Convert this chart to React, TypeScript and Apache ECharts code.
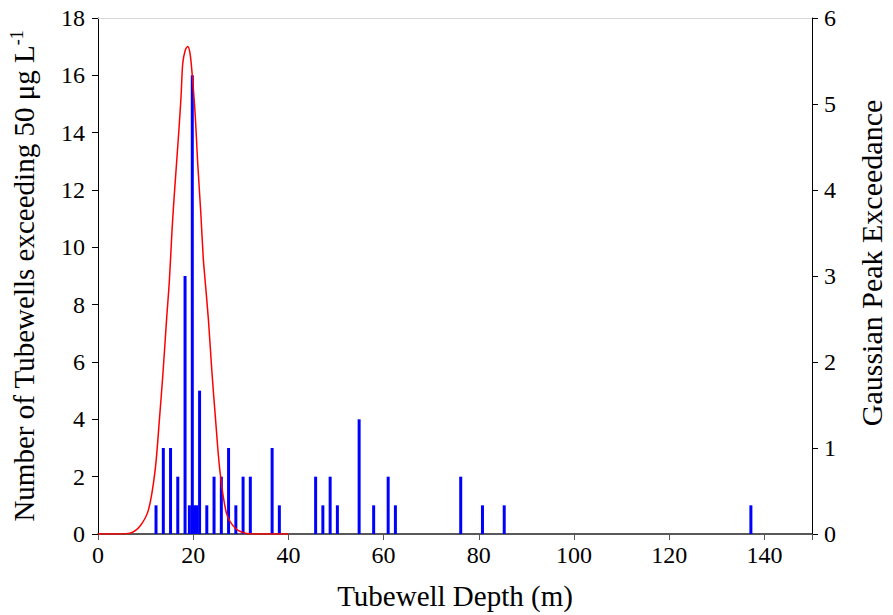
import React, { useEffect, useRef } from "react";
import * as echarts from "echarts";

const depths = [12.19, 13.72, 15.24, 16.76, 18.29, 19.2, 19.81, 20.27, 20.73, 21.34, 22.86, 24.38, 25.91, 27.43, 28.96, 30.48, 32.0, 36.58, 38.1, 45.72, 47.24, 48.77, 50.29, 54.86, 57.91, 60.96, 62.48, 76.2, 80.77, 85.34, 137.16];
const counts = [1, 3, 3, 2, 9, 1, 16, 1, 1, 5, 1, 2, 2, 3, 1, 2, 2, 3, 1, 2, 1, 2, 1, 4, 1, 2, 1, 2, 1, 1, 1];

const gaussX = [0, 4, 6.7, 8.8, 10.6, 12.0, 12.9, 13.7, 14.4, 15.0, 15.55, 16.0, 16.5, 17.0, 17.45, 17.8, 18.3, 18.85, 19.3, 19.7, 20.4, 20.95, 21.6, 22.1, 22.5, 23.2, 23.9, 24.7, 25.6, 27.0, 28.8, 30.9, 33, 40];
const gaussY = [0, 0, 0.01, 0.09, 0.28, 0.74, 1.33, 1.91, 2.49, 2.95, 3.53, 3.92, 4.31, 4.7, 5.09, 5.47, 5.62, 5.67, 5.6, 5.4, 4.89, 4.31, 3.73, 3.22, 2.95, 2.49, 1.91, 1.33, 0.74, 0.24, 0.07, 0.01, 0, 0];

const xTicks = [0, 20, 40, 60, 80, 100, 120, 140];

const FONT = "Liberation Serif";

export default function App() {
  const ref = useRef<HTMLDivElement>(null);
  useEffect(() => {
    document.body.style.margin = "0";
    const chart = echarts.init(ref.current!, null, { renderer: "svg" });
    const axisLine = { show: true, onZero: false, lineStyle: { color: "#000", width: 1 } };
    chart.setOption({
      animation: false,
      backgroundColor: "#fff",
      grid: { left: 98, right: 81, top: 18, bottom: 81, containLabel: false, outerBoundsMode: "none" },
      xAxis: [
        {
          type: "value",
          min: 0,
          max: 150,
          interval: 20,
          position: "bottom",
          name: "Tubewell Depth (m)",
          nameLocation: "middle",
          nameGap: 47,
          nameTextStyle: { fontFamily: FONT, fontSize: 29, color: "#000" },
          axisLine: { show: true, onZero: false, lineStyle: { color: "#222", width: 1.5 } },
          axisTick: { show: true, length: 6, inside: false, lineStyle: { color: "#555" } },
          axisLabel: {
            fontFamily: FONT,
            fontSize: 24,
            color: "#000",
            margin: 9,
            formatter: (v: number) => (xTicks.includes(v) ? String(v) : ""),
          },
          splitLine: { show: false },
        },
        {
          type: "value",
          min: 0,
          max: 150,
          position: "top",
          axisLine: { show: true, onZero: false, lineStyle: { color: "#d8d8d8", width: 1 } },
          axisTick: { show: false },
          axisLabel: { show: false },
          splitLine: { show: false },
        },
      ],
      yAxis: [
        {
          type: "value",
          min: 0,
          max: 18,
          interval: 2,
          position: "left",
          name: "Number of Tubewells exceeding 50 μg L{sup|-1}",
          nameLocation: "middle",
          nameRotate: 90,
          nameGap: 58,
          nameTextStyle: {
            fontFamily: FONT,
            fontSize: 29,
            color: "#000",
            rich: {
              sup: { fontFamily: FONT, fontSize: 18, color: "#000", verticalAlign: "top", padding: [0, 0, 14, 0] },
            },
          },
          axisLine,
          axisTick: { show: true, length: 6, lineStyle: { color: "#000" } },
          axisLabel: { fontFamily: FONT, fontSize: 24, color: "#000", margin: 13 },
          splitLine: { show: false },
        },
        {
          type: "value",
          min: 0,
          max: 6,
          interval: 1,
          position: "right",
          name: "Gaussian Peak Exceedance",
          nameLocation: "middle",
          nameRotate: 90,
          nameGap: 44,
          nameTextStyle: { fontFamily: FONT, fontSize: 30, color: "#000", padding: [0, 0, 0, 26] },
          axisLine,
          axisTick: { show: true, length: 6, lineStyle: { color: "#000" } },
          axisLabel: { fontFamily: FONT, fontSize: 24, color: "#000", margin: 12 },
          splitLine: { show: false },
        },
      ],
      series: [
        {
          type: "bar",
          xAxisIndex: 0,
          yAxisIndex: 0,
          barWidth: 3,
          barGap: "-100%",
          itemStyle: { color: "#0000ff" },
          data: depths.map((d, i) => [d, counts[i]]),
          z: 2,
        },
        {
          type: "line",
          xAxisIndex: 0,
          yAxisIndex: 1,
          showSymbol: false,
          smooth: 0.3,
          lineStyle: { color: "#ff0000", width: 1.5 },
          data: gaussX.map((x, i) => [x, gaussY[i]]),
          z: 3,
        },
      ],
    });
    return () => chart.dispose();
  }, []);
  return (
    <div
      ref={ref}
      style={{ position: "absolute", left: 0, top: 0, width: 893, height: 615 }}
    />
  );
}
